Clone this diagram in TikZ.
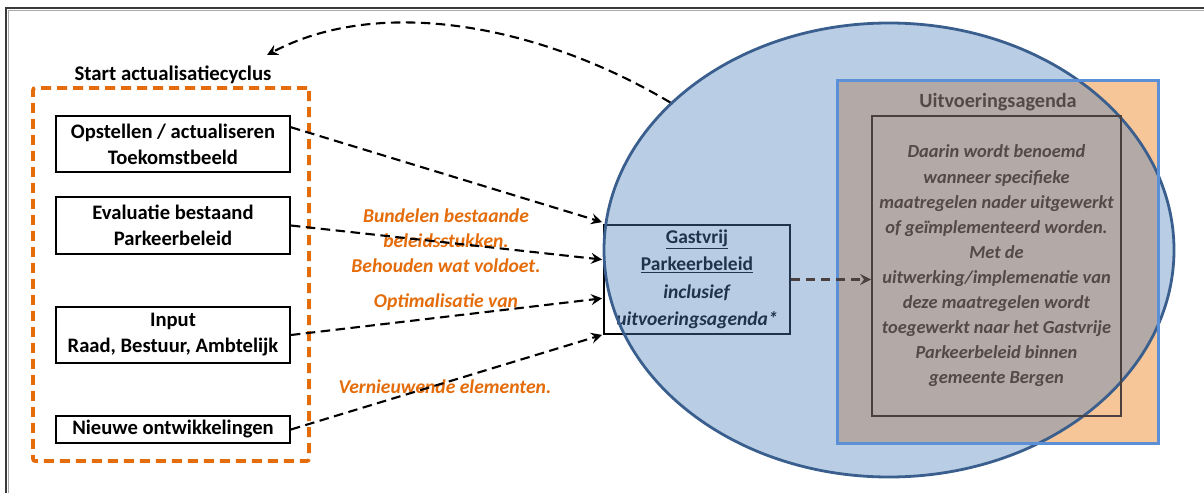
\documentclass[tikz,border=0pt]{standalone}
\usepackage{fontspec}
\setmainfont{Carlito}
\usetikzlibrary{shapes.geometric,arrows.meta,calc}
\definecolor{orng}{HTML}{E46C0A}
\definecolor{peach}{HTML}{F6C598}
\definecolor{ovblue}{HTML}{4F81BD}
\definecolor{ellborder}{HTML}{3A5F8E}
\definecolor{rectblue}{HTML}{5B8FD6}
\definecolor{innertxt}{HTML}{554848}
\definecolor{innerline}{HTML}{4A4040}
\definecolor{framedark}{HTML}{3A3A3A}
\definecolor{framegray}{HTML}{A8A8A8}
\begin{document}
\begin{tikzpicture}[x=1pt,y=-1pt,
  srcbox/.style={draw=black, line width=1.8pt, fill=white, minimum width=234pt, align=center, inner sep=0pt, font=\fontsize{20.6}{26}\selectfont\bfseries},
  blkarrow/.style={draw=black, line width=2.1pt, dash pattern=on 9.5pt off 5.5pt, -{Stealth[length=11pt,width=11pt,inset=4pt]}},
  lbl/.style={text=orng, align=center, inner sep=0pt, font=\fontsize{19.6}{25}\selectfont\bfseries\itshape}
]
\useasboundingbox (0,0) rectangle (1204,493);
% frame
\draw[framedark, line width=1.2pt] (6,493) -- (6,8) -- (1204,8);
\draw[framegray, line width=1.6pt] (8.6,493) -- (8.6,10.6) -- (1204,10.6);

% left group
\node[draw=orng, line width=3.6pt, dash pattern=on 10pt off 6pt, rounded corners=2pt, minimum width=276pt, minimum height=373pt, inner sep=0pt] (grp) at (171,274.5) {};
\node[font=\fontsize{20.8}{24}\selectfont\bfseries, inner sep=0pt] (title) at (173,75) {Start actualisatiecyclus};

\node[srcbox, minimum height=56pt] (b1) at (173,144) {Opstellen / actualiseren\\Toekomstbeeld};
\node[srcbox, minimum height=57pt] (b2) at (173,225.5) {Evaluatie bestaand\\Parkeerbeleid};
\node[srcbox, minimum height=56pt] (b3) at (173,335) {Input\\Raad, Bestuur, Ambtelijk};
\node[srcbox, minimum height=27pt] (b4) at (173,429.5) {Nieuwe ontwikkelingen};

% central box
\node[draw=black, line width=1.8pt, fill=white, minimum width=186pt, minimum height=109pt, align=center, inner sep=0pt, font=\fontsize{19.5}{27.5}\selectfont\bfseries] (g) at (697,279.5)
  {\underline{Gastvrij}\\\underline{Parkeerbeleid}\\\textit{inclusief}\\\textit{uitvoeringsagenda*}};

% right block
\node[fill=peach, minimum width=320pt, minimum height=362pt, inner sep=0pt] (R) at (998,262) {};

% labels
\node[lbl] (l1) at (446,241) {Bundelen bestaande\\beleidsstukken.\\Behouden wat voldoet.};
\node[lbl] (l2) at (446,302) {Optimalisatie van};
\node[lbl] (l3) at (445,387) {Vernieuwende elementen.};

% arrows to central box
\draw[blkarrow] ($(b1.north east)!0.21!(b1.south east)$) -- ($(g.north west)+(-1,-2)$);
\draw[blkarrow] (b2.east) -- ($(g.north west)!0.32!(g.south west)+(-1,0)$);
\draw[blkarrow] (b3.east) -- ($(g.north west)!0.67!(g.south west)+(-1,0)$);
\draw[blkarrow] (b4.east) -- ($(g.south west)+(-1,0)$);

% ellipse overlay
\node[ellipse, draw=ellborder, line width=2.8pt, fill=ovblue, fill opacity=0.4, draw opacity=1, minimum width=570pt, minimum height=454pt, inner sep=0pt] (E) at (889,250) {};
\draw[rectblue, line width=2.8pt] (R.north west) rectangle (R.south east);

% inner block (seen through the overlay)
\node[font=\fontsize{20.2}{24}\selectfont\bfseries, text=innertxt, inner sep=0pt] (ua) at (998,102) {Uitvoeringsagenda};
\node[draw=innerline, line width=1.8pt, minimum width=249pt, minimum height=300pt, align=center, inner sep=0pt, text=innertxt, font=\fontsize{18.4}{25.1}\selectfont\bfseries\itshape] (I) at (996.5,266)
  {Daarin wordt benoemd\\wanneer specifieke\\maatregelen nader uitgewerkt\\of geïmplementeerd worden.\\Met de\\uitwerking/implemenatie van\\deze maatregelen wordt\\toegewerkt naar het Gastvrije\\Parkeerbeleid binnen\\gemeente Bergen};
\draw[blkarrow, draw=innerline] (g.east) -- (g.east -| I.west);

% return arrow
\coordinate (cyc) at (267,55);
\draw[blkarrow] (E.146) .. controls (540,25) and (380,-5) .. (cyc);
\end{tikzpicture}
\end{document}
